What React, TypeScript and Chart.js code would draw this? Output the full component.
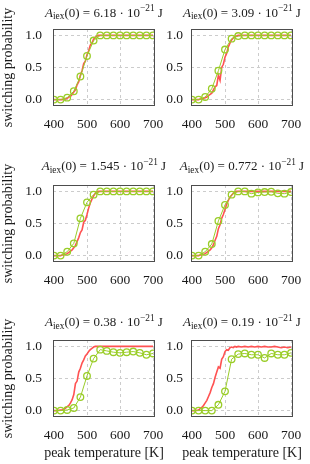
import React, { useEffect, useRef } from 'react';
import { Chart, registerables } from 'chart.js';
Chart.register(...registerables);

// ---- data ----
const G_T = [400, 420, 440, 460, 480, 500, 520, 540, 560, 580, 600, 620, 640, 660, 680, 700];
const R_T = [400, 410, 420, 425, 430, 435, 440, 445, 450, 455, 460, 465, 470, 475, 480, 485, 490, 495, 500, 505, 510, 515, 520, 525, 530, 535, 540, 550, 560, 570, 580, 590, 600, 610, 620, 630, 640, 650, 660, 670, 680, 690, 700];

const MANTISSAS = ['6.18', '3.09', '1.545', '0.772', '0.38', '0.19'];

const GREEN_A = [0, 0, 0.03, 0.13, 0.36, 0.68, 0.92, 1, 1, 1, 1, 1, 1, 1, 1, 1];
const GREEN_B = [0, 0, 0.04, 0.17, 0.45, 0.78, 0.95, 0.99, 1, 1, 1, 1, 1, 1, 1, 1];
const GREEN_C = [0, 0, 0.06, 0.19, 0.58, 0.83, 0.95, 1, 1, 1, 1, 1, 1, 1, 1, 1];
const GREEN_D = [0, 0, 0.06, 0.18, 0.54, 0.79, 0.95, 1, 1, 0.965, 0.985, 0.99, 0.995, 0.97, 0.965, 0.99];
const GREEN_E = [0, 0, 0.01, 0.04, 0.21, 0.54, 0.81, 0.95, 0.93, 0.91, 0.9, 0.91, 0.92, 0.9, 0.87, 0.89];
const GREEN_F = [0, 0, 0, 0, 0.09, 0.3, 0.8, 0.88, 0.89, 0.87, 0.87, 0.82, 0.89, 0.87, 0.87, 0.9];

const RED_A = [0, 0, 0, 0, 0.01, 0.01, 0.02, 0.04, 0.05, 0.08, 0.12, 0.15, 0.23, 0.28, 0.38, 0.45, 0.56, 0.6, 0.7, 0.76, 0.85, 0.88, 0.94, 0.97, 0.99, 1, 1, 1, 1, 1, 1, 1, 1, 1, 1, 1, 1, 1, 1, 1, 1, 1, 1];
const RED_B = [0, 0, 0, 0.01, 0.01, 0.02, 0.03, 0.04, 0.06, 0.08, 0.1, 0.15, 0.2, 0.22, 0.38, 0.3, 0.5, 0.55, 0.66, 0.72, 0.82, 0.88, 0.93, 0.96, 0.98, 0.99, 1, 1, 1, 1, 1, 1, 1, 1, 1, 1, 1, 1, 1, 1, 1, 1, 1];
const RED_C = [0, 0, 0, 0.01, 0.01, 0.02, 0.03, 0.05, 0.07, 0.09, 0.12, 0.16, 0.22, 0.28, 0.36, 0.4, 0.52, 0.55, 0.64, 0.74, 0.82, 0.88, 0.93, 0.97, 0.99, 1, 1, 1, 1, 1, 1, 1, 1, 1, 1, 1, 1, 1, 1, 1, 1, 1, 1];
const RED_D = [0, 0, 0, 0.01, 0.01, 0.02, 0.03, 0.05, 0.07, 0.09, 0.12, 0.17, 0.24, 0.3, 0.42, 0.48, 0.58, 0.64, 0.72, 0.8, 0.86, 0.91, 0.94, 0.97, 0.99, 1, 1, 1, 1, 1, 1, 1, 1, 1, 1, 1, 1, 1, 1, 1, 1, 1, 1];
const RED_E = [0, 0, 0.01, 0.01, 0.02, 0.04, 0.06, 0.08, 0.12, 0.17, 0.25, 0.42, 0.46, 0.6, 0.66, 0.74, 0.79, 0.85, 0.88, 0.92, 0.95, 0.97, 0.99, 1, 1, 1, 1, 1, 1, 1, 1, 1, 1, 1, 1, 1, 1, 1, 1, 1, 1, 1, 1];
const RED_F = [0, 0, 0.01, 0.03, 0.05, 0.08, 0.12, 0.16, 0.22, 0.28, 0.36, 0.42, 0.52, 0.6, 0.68, 0.66, 0.8, 0.84, 0.92, 0.95, 0.94, 0.98, 0.99, 0.98, 1, 0.99, 1, 0.99, 1, 0.99, 1, 0.99, 1, 0.99, 1, 0.99, 0.99, 1, 0.99, 0.98, 0.99, 0.98, 0.99];

const X_TICKS = [400, 500, 600, 700];
const Y_TICKS = [0, 0.5, 1];
const X_LABEL = 'peak temperature [K]';
const Y_LABEL = 'switching probability';

// ---- styles ----
const FONT = '"Liberation Serif", "DejaVu Serif", serif';
const RED = 'rgb(255,82,82)';
const GREEN = 'rgb(154,205,40)';
const TEXT = '#1a1a1a';
const TITLE_FS = 13;
const TICK_FS = 13.5;
const LABEL_FS = 14;

const PANELS = [
  { mant: MANTISSAS[0], green: GREEN_A, red: RED_A },
  { mant: MANTISSAS[1], green: GREEN_B, red: RED_B },
  { mant: MANTISSAS[2], green: GREEN_C, red: RED_C },
  { mant: MANTISSAS[3], green: GREEN_D, red: RED_D },
  { mant: MANTISSAS[4], green: GREEN_E, red: RED_E },
  { mant: MANTISSAS[5], green: GREEN_F, red: RED_F },
];

const COLS = [
  { left: 0, width: 172, yw: 53, pr: 17, tickPad: 11, showY: true },
  { left: 160, width: 150, yw: 31, pr: 17, tickPad: 8, showY: false },
];
const ROWS = [
  { top: 0, height: 136, pt: 29, xh: 30, showX: false, titleBase: 16.5 },
  { top: 150, height: 142, pt: 35, xh: 30, showX: false, titleBase: 20 },
  { top: 300, height: 164, pt: 40, xh: 47, showX: true, titleBase: 26 },
];

const titlePlugin = {
  id: 'panelTitle',
  afterDraw(chart: any, _args: any, opts: any) {
    const { ctx, chartArea } = chart;
    const fs = TITLE_FS;
    const ss = fs * 0.72;
    const pieces = [
      { t: 'A', f: `italic ${fs}px ${FONT}`, dy: 0 },
      { t: 'iex', f: `${ss}px ${FONT}`, dy: fs * 0.22 },
      { t: '(0) = ' + opts.mant + ' · 10', f: `${fs}px ${FONT}`, dy: 0 },
      { t: '−21', f: `${ss}px ${FONT}`, dy: -fs * 0.42 },
      { t: ' J', f: `${fs}px ${FONT}`, dy: 0 },
    ];
    ctx.save();
    let total = 0;
    const widths = pieces.map((p) => {
      ctx.font = p.f;
      const w = ctx.measureText(p.t).width;
      total += w;
      return w;
    });
    const cx = (chartArea.left + chartArea.right) / 2;
    let x = cx - total / 2;
    ctx.fillStyle = TEXT;
    ctx.textBaseline = 'alphabetic';
    ctx.textAlign = 'left';
    pieces.forEach((p, i) => {
      ctx.font = p.f;
      ctx.fillText(p.t, x, opts.base + p.dy);
      x += widths[i];
    });
    // axis labels
    ctx.font = `${LABEL_FS}px ${FONT}`;
    ctx.textAlign = 'center';
    if (opts.showX) {
      ctx.fillText(X_LABEL, cx, opts.xBase);
    }
    if (opts.showY) {
      ctx.save();
      ctx.translate(opts.yBase, (chartArea.top + chartArea.bottom) / 2);
      ctx.rotate(-Math.PI / 2);
      ctx.fillText(Y_LABEL, 0, 0);
      ctx.restore();
    }
    ctx.restore();
  },
};

const boxPlugin = {
  id: 'panelBox',
  afterDraw(chart: any) {
    const { ctx, chartArea } = chart;
    ctx.save();
    ctx.strokeStyle = '#4d4d4d';
    ctx.lineWidth = 1;
    const l = Math.round(chartArea.left) + 0.5;
    const t = Math.round(chartArea.top) + 0.5;
    const r = Math.round(chartArea.right) - 0.5;
    const b = Math.round(chartArea.bottom) - 0.5;
    ctx.strokeRect(l, t, r - l, b - t);
    ctx.restore();
  },
};

function Panel({ idx }: { idx: number }) {
  const ref = useRef<HTMLCanvasElement>(null);
  const row = Math.floor(idx / 2);
  const col = idx % 2;
  const R = ROWS[row];
  const C = COLS[col];
  useEffect(() => {
    const p = PANELS[idx];
    const chart = new Chart(ref.current as HTMLCanvasElement, {
      type: 'line',
      data: {
        datasets: [
          {
            data: G_T.map((t, i) => ({ x: t, y: p.green[i] })),
            borderColor: GREEN,
            borderWidth: 1,
            pointRadius: 3.3,
            pointBorderWidth: 1.3,
            pointBorderColor: GREEN,
            pointBackgroundColor: 'rgba(0,0,0,0)',
            fill: false,
            tension: 0,
          },
          {
            data: R_T.map((t, i) => ({ x: t, y: p.red[i] })),
            borderColor: RED,
            borderWidth: 1.6,
            pointRadius: 0,
            fill: false,
            tension: 0,
          },
        ],
      },
      options: {
        animation: false,
        responsive: false,
        maintainAspectRatio: false,
        devicePixelRatio: 1,
        layout: { padding: { top: R.pt, right: C.pr, left: 0, bottom: 0 } },
        plugins: {
          legend: { display: false },
          tooltip: { enabled: false },
          panelTitle: {
            mant: p.mant,
            base: R.titleBase,
            showX: R.showX,
            showY: C.showY,
            xBase: R.height - 7.5,
            yBase: 12,
          },
        } as any,
        scales: {
          x: {
            type: 'linear',
            min: 397,
            max: 706,
            afterBuildTicks: (s: any) => {
              s.ticks = X_TICKS.map((v) => ({ value: v }));
            },
            afterFit: (s: any) => {
              s.height = R.xh;
              s.paddingLeft = 0;
              s.paddingRight = 0;
            },
            ticks: {
              font: { family: FONT, size: TICK_FS },
              color: TEXT,
              padding: 10,
              maxRotation: 0,
              autoSkip: false,
              callback: (v: any) => String(v),
            },
            grid: { color: '#cccccc', drawTicks: false, lineWidth: 1 },
            border: { display: false, dash: [3, 3] },
            title: { display: false },
          },
          y: {
            type: 'linear',
            min: -0.1,
            max: 1.1,
            afterBuildTicks: (s: any) => {
              s.ticks = Y_TICKS.map((v) => ({ value: v }));
            },
            afterFit: (s: any) => {
              s.width = C.yw;
              s.paddingTop = 0;
              s.paddingBottom = 0;
            },
            ticks: {
              font: { family: FONT, size: TICK_FS },
              color: TEXT,
              padding: C.tickPad,
              autoSkip: false,
              callback: (v: any) => Number(v).toFixed(1),
            },
            grid: { color: '#cccccc', drawTicks: false, lineWidth: 1 },
            border: { display: false, dash: [3, 3] },
            title: { display: false },
          },
        },
      } as any,
      plugins: [titlePlugin, boxPlugin],
    });
    return () => chart.destroy();
  }, []);
  return (
    <canvas
      ref={ref}
      width={C.width}
      height={R.height}
      style={{ position: 'absolute', left: C.left, top: R.top, width: C.width, height: R.height }}
    />
  );
}

export default function App() {
  return (
    <div style={{ position: 'fixed', left: 0, top: 0, width: 310, height: 464, background: '#fff', overflow: 'hidden' }}>
      {PANELS.map((_, i) => (
        <Panel key={i} idx={i} />
      ))}
    </div>
  );
}
